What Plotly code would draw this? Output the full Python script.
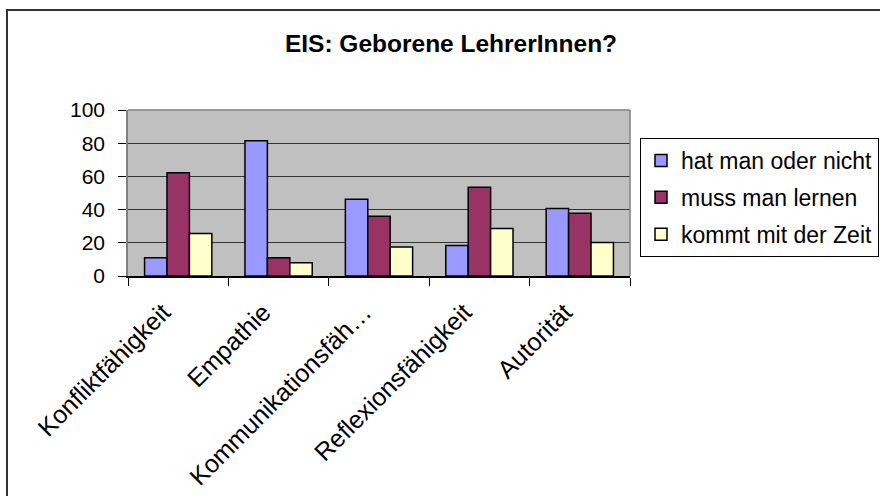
import plotly.graph_objects as go

# data
categories = ["Konfliktfähigkeit", "Empathie", "Kommunikationsfäh…",
              "Reflexionsfähigkeit", "Autorität"]
hat_man_oder_nicht = [11, 81.5, 46.3, 18.3, 40.7]
muss_man_lernen = [62.2, 11, 36, 53.5, 37.8]
kommt_mit_der_zeit = [25.6, 8, 17.5, 28.6, 20.2]

series = [
    ("hat man oder nicht", hat_man_oder_nicht, "#9999FF"),
    ("muss man lernen", muss_man_lernen, "#993366"),
    ("kommt mit der Zeit", kommt_mit_der_zeit, "#FFFFCC"),
]

font = "Arial, Liberation Sans, sans-serif"

fig = go.Figure()
for i, (name, vals, col) in enumerate(series):
    fig.add_trace(go.Bar(
        x=categories, y=vals, name=name, legendgroup=str(i),
        marker=dict(color=col, line=dict(color="black", width=1.5)),
    ))

fig.update_layout(
    width=880, height=496,
    margin=dict(l=128, r=250, t=110, b=220, autoexpand=False),
    paper_bgcolor="white",
    plot_bgcolor="#C0C0C0",
    font=dict(family=font, size=21, color="black"),
    barmode="group",
    bargap=0.33,
    bargroupgap=0,
    title=dict(text="<b>EIS: Geborene LehrerInnen?</b>",
               font=dict(size=24.5, family=font),
               x=451 / 880, xref="container", xanchor="center",
               y=1 - 43 / 496, yref="container", yanchor="middle"),
    legend=dict(x=640 / 880, y=1 - 138 / 496, xref="container", yref="container",
                xanchor="left", yanchor="top",
                bordercolor="black", borderwidth=1, bgcolor="white",
                font=dict(size=23), tracegroupgap=4),
    showlegend=True,
)

fig.update_yaxes(range=[0, 100], dtick=20, showgrid=True, gridcolor="#333333",
                 gridwidth=1, showline=True, linecolor="#808080", linewidth=1.5,
                 ticks="outside", ticklen=8, tickcolor="black", zeroline=False,
                 tickfont=dict(size=21), ticklabelstandoff=9, automargin=False)
fig.update_xaxes(showline=True, linecolor="black", linewidth=1.5,
                 ticks="outside", ticklen=8, tickcolor="black",
                 tickson="boundaries", tickangle=-45, tickfont=dict(size=25),
                 ticklabelstandoff=10, ticklabelshift=-15, automargin=False)

# plot area top/right border
fig.add_shape(type="line", xref="paper", yref="paper", x0=0, x1=1, y0=1, y1=1,
              line=dict(color="#808080", width=1.5), layer="above")
fig.add_shape(type="line", xref="paper", yref="paper", x0=1, x1=1, y0=0, y1=1,
              line=dict(color="#808080", width=1.5), layer="above")
# chart frame
fig.add_shape(type="rect", xref="paper", yref="paper",
              x0=(7 - 128) / 502, x1=1.6, y0=-1.5, y1=(276 - 10) / 166,
              line=dict(color="#333333", width=2))

fig.write_html("out.html", config={"displayModeBar": False},
               post_script="document.body.style.margin='0';")
